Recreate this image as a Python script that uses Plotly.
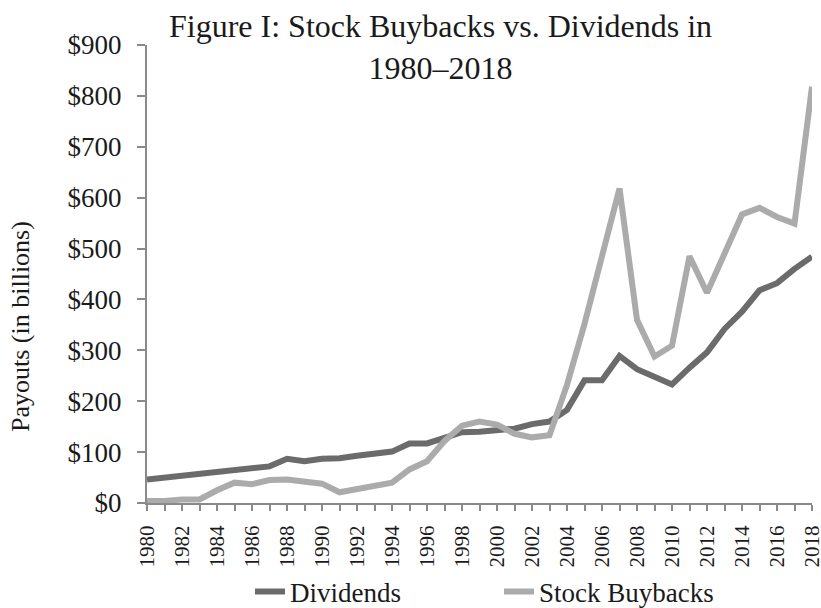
import plotly.graph_objects as go

years = list(range(1980, 2019))
dividends = [46, 50, 53, 57, 60, 63, 68, 72, 87, 82, 87, 88, 93, 97, 101, 117, 117, 128, 139, 140,
             144, 146, 155, 160, 183, 241, 241, 289, 263, 247, 233, 266, 296, 342, 376, 418, 432, 460, 484]
buybacks = [4, 4, 7, 7, 25, 40, 37, 45, 46, 43, 38, 21, 28, 34, 40, 66, 82, 122, 152, 160,
            154, 136, 129, 133, 232, 352, 490, 618, 360, 288, 309, 485, 413, 490, 567, 580, 562, 549, 818]
x_tick_labels = [str(y) for y in range(1980, 2019, 2)]

FONT = "Liberation Serif, Times New Roman, serif"
AXIS = "#8a8a8a"
TXT = "#1a1a1a"

PL, PR, PT, PB = 147, 9, 45, 105
PW = 821 - PL - PR
PH = 608 - PT - PB

fig = go.Figure()
fig.add_trace(go.Scatter(x=years, y=dividends, mode="lines", name="Dividends",
                         line=dict(color="#6b6b6b", width=6)))
fig.add_trace(go.Scatter(x=years, y=buybacks, mode="lines", name="Stock Buybacks",
                         line=dict(color="#ababab", width=6)))

fig.update_layout(
    width=821, height=608,
    margin=dict(l=PL, r=PR, t=PT, b=PB, autoexpand=False),
    paper_bgcolor="white", plot_bgcolor="white",
    font=dict(family=FONT, color=TXT, size=26),
    showlegend=True,
    legend=dict(orientation="h", x=(499 - PL) / PW, xanchor="center",
                y=(608 - 592) / 608, yanchor="middle", yref="container",
                font=dict(family=FONT, size=27, color=TXT),
                entrywidth=204, bgcolor="rgba(0,0,0,0)"),
    annotations=[
        dict(text="Figure I: Stock Buybacks vs. Dividends in<br>1980–2018",
             xref="paper", yref="paper", x=(440 - PL) / PW, y=1 + (PT - 47) / PH,
             xanchor="center", yanchor="middle", showarrow=False,
             font=dict(family=FONT, size=32, color=TXT)),
        dict(text="Payouts (in billions)", textangle=-90,
             xref="paper", yref="paper", x=(20 - PL) / PW, y=(503 - 327) / PH,
             xanchor="center", yanchor="middle", showarrow=False,
             font=dict(family=FONT, size=26, color=TXT)),
    ],
)

fig.update_xaxes(range=[1980, 2018], tickmode="array",
                 tickvals=list(range(1980, 2019, 2)), ticktext=x_tick_labels,
                 tickangle=-90, ticks="outside", ticklen=6, tickcolor=AXIS, tickwidth=2,
                 showline=True, linecolor=AXIS, linewidth=2, showgrid=False, zeroline=False,
                 automargin=False, ticklabeloverflow="allow",
                 tickfont=dict(family=FONT, size=21, color=TXT),
                 minor=dict(tickmode="array", tickvals=years, ticks="outside", ticklen=6,
                            tickcolor=AXIS, tickwidth=2),
                 ticklabelstandoff=6)
fig.update_yaxes(range=[0, 900], dtick=100, tickprefix="$", ticks="outside", ticklen=8,
                 tickcolor=AXIS, tickwidth=2, showline=True, linecolor=AXIS, linewidth=2,
                 showgrid=False, zeroline=False, automargin=False,
                 tickfont=dict(family=FONT, size=27, color=TXT),
                 ticklabelstandoff=10)

fig.write_html("out.html", config={"displayModeBar": False},
               post_script="document.body.style.margin='0';document.body.style.overflow='hidden';")
